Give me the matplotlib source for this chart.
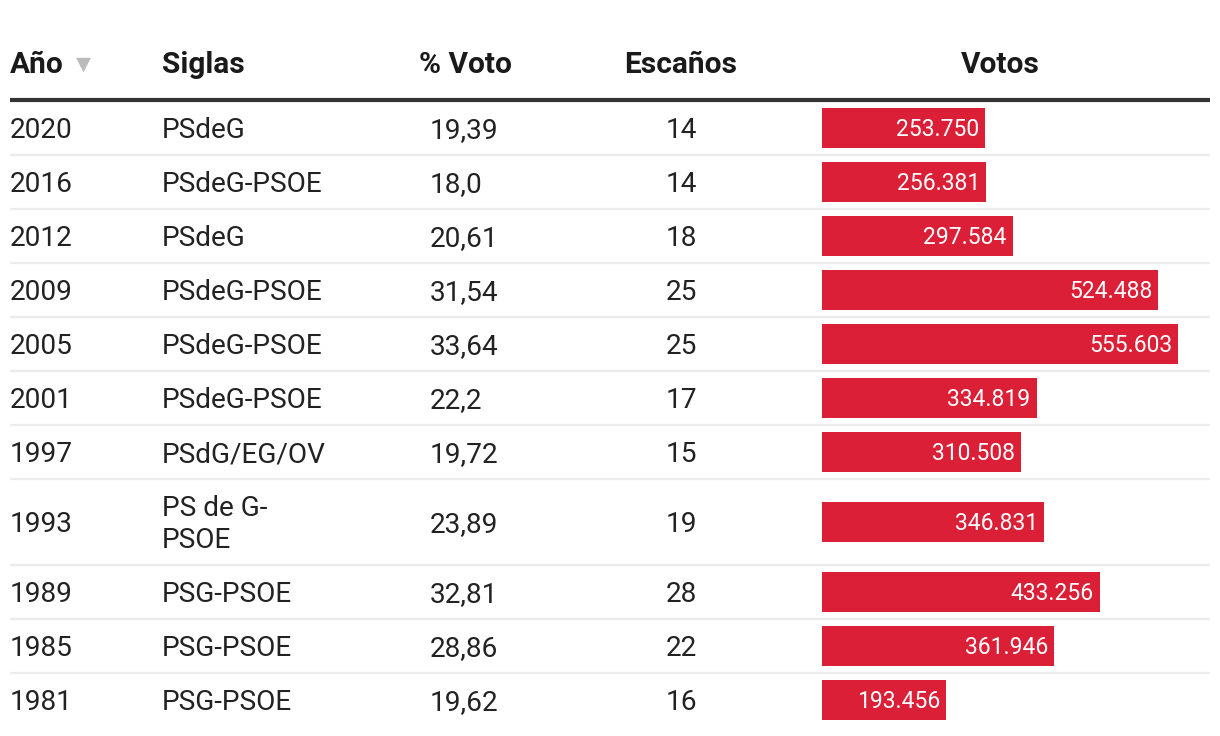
import matplotlib.pyplot as plt

plt.rcParams['font.family'] = ['Roboto', 'DejaVu Sans']

anios = ['2020', '2016', '2012', '2009', '2005', '2001', '1997', '1993', '1989', '1985', '1981']
siglas = ['PSdeG', 'PSdeG-PSOE', 'PSdeG', 'PSdeG-PSOE', 'PSdeG-PSOE', 'PSdeG-PSOE',
          'PSdG/EG/OV', 'PS de G-\nPSOE', 'PSG-PSOE', 'PSG-PSOE', 'PSG-PSOE']
voto = ['19,39', '18,0', '20,61', '31,54', '33,64', '22,2', '19,72', '23,89', '32,81', '28,86', '19,62']
escanos = [14, 14, 18, 25, 25, 17, 15, 19, 28, 22, 16]
votos = [253750, 256381, 297584, 524488, 555603, 334819, 310508, 346831, 433256, 361946, 193456]
cabeceras = ['Año', 'Siglas', '% Voto', 'Escaños', 'Votos']

ROJO = '#da1f36'
W, H = 1220, 736

fig = plt.figure(figsize=(W / 100, H / 100), dpi=100)
ax = fig.add_axes([0, 0, 1, 1])
ax.set_xlim(0, W)
ax.set_ylim(H, 0)
ax.axis('off')

# row geometry (pixels)
alturas = [86 if '\n' in s else 54 for s in siglas]
top = 101
centros = []
for i, h in enumerate(alturas):
    centros.append(top + h / 2)
    top += h
    if i < len(alturas) - 1:
        ax.plot([10, 1210], [top, top], color='#ececec', lw=1.6, solid_capstyle='butt', zorder=1)

# header
hy = 73
hfs = 21.5
ax.text(10, hy, cabeceras[0], fontsize=hfs, fontweight='bold', va='baseline', color='#1a1a1a')
ax.text(76, hy - 3, '▼', fontsize=14, va='baseline', color='#bbbbbb', family='DejaVu Sans')
ax.text(162, hy, cabeceras[1], fontsize=hfs, fontweight='bold', va='baseline', color='#1a1a1a')
ax.text(465, hy, cabeceras[2], fontsize=hfs, fontweight='bold', va='baseline', ha='center', color='#1a1a1a')
ax.text(681, hy, cabeceras[3], fontsize=hfs, fontweight='bold', va='baseline', ha='center', color='#1a1a1a')
ax.text(1000, hy, cabeceras[4], fontsize=hfs, fontweight='bold', va='baseline', ha='center', color='#1a1a1a')
ax.plot([10, 1210], [100, 100], color='#333333', lw=3, solid_capstyle='butt')

fs = 20.2
for i, c in enumerate(centros):
    b = c + 10
    ax.text(10, b, anios[i], fontsize=fs, va='baseline', color='#222222')
    if '\n' in siglas[i]:
        l1, l2 = siglas[i].split('\n')
        ax.text(162, b - 16, l1, fontsize=fs, va='baseline', color='#222222')
        ax.text(162, b + 16, l2, fontsize=fs, va='baseline', color='#222222')
    else:
        ax.text(162, b, siglas[i], fontsize=fs, va='baseline', color='#222222')
    ax.text(430, b, voto[i], fontsize=fs, va='baseline', color='#222222')
    ax.text(681, b, str(escanos[i]), fontsize=fs, va='baseline', ha='center', color='#222222')

# bars column
bx = fig.add_axes([822 / W, 0, (1210 - 822) / W, 1])
bx.set_ylim(H, 0)
bx.set_xlim(0, 605300)
bx.axis('off')
bx.barh(centros, votos, height=40, color=ROJO, zorder=2)
for c, v in zip(centros, votos):
    lab = f'{v:,}'.replace(',', '.')
    bx.annotate(lab, (v, c + 8), xytext=(-6, 0), textcoords='offset pixels',
                ha='right', va='baseline', fontsize=16.5, color='white', zorder=3)

fig.savefig('out.png', dpi=100)
